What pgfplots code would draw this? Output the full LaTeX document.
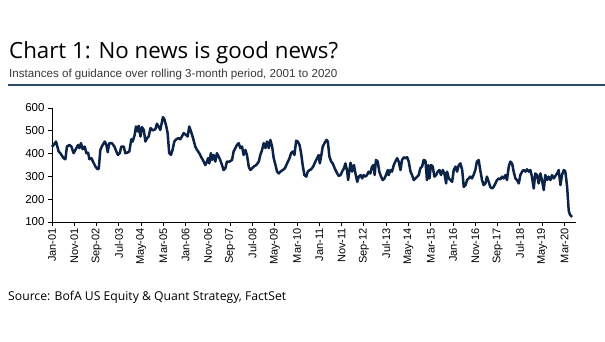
\documentclass[border=0pt]{standalone}
\usepackage{fontspec}
\setmainfont{Liberation Sans}
\newfontfamily\titlefont{Open Sans}
\newfontfamily\subfont{Liberation Sans}
\usepackage{pgfplots}
\pgfplotsset{compat=1.18}
\definecolor{navy}{HTML}{0C2348}
\definecolor{rulecol}{HTML}{2E4A6B}
\begin{document}
\begin{tikzpicture}
\path[use as bounding box] (0pt,0pt) rectangle (605pt,-341pt);
\node[anchor=base west, inner sep=0pt] at (9pt,-58pt) {\titlefont\fontsize{22.3}{25}\selectfont Chart 1: No news is good news?};
\node[anchor=base west, inner sep=0pt, text=black!78] at (9pt,-77pt) {\subfont\fontsize{11.6}{13}\selectfont Instances of guidance over rolling 3-month period, 2001 to 2020};
\draw[rulecol, line width=1.2pt] (8pt,-85pt) -- (605pt,-85pt);
\node[anchor=base west, inner sep=0pt] at (8pt,-300pt) {\titlefont\fontsize{12.2}{14}\selectfont Source: BofA US Equity \& Quant Strategy, FactSet};
\begin{axis}[
  at={(52pt,-222pt)}, anchor=south west,
  scale only axis, width=523.6pt, height=114pt,
  xmin=0, xmax=235, ymin=100, ymax=600,
  axis x line*=bottom, axis y line*=left,
  xtick={0,10,...,230},
  xticklabels={Jan-01,Nov-01,Sep-02,Jul-03,May-04,Mar-05,Jan-06,Nov-06,Sep-07,Jul-08,May-09,Mar-10,Jan-11,Nov-11,Sep-12,Jul-13,May-14,Mar-15,Jan-16,Nov-16,Sep-17,Jul-18,May-19,Mar-20},
  x tick label style={rotate=90, anchor=east, font=\fontsize{11}{12}\selectfont, inner xsep=2pt},
  y tick label style={font=\fontsize{11.5}{12}\selectfont},
  ytick={100,200,...,600},
  tick align=outside, major tick length=4pt,
  axis line style={black, line width=0.9pt},
  tick style={black, line width=0.9pt},
  /pgf/number format/assume math mode=true,
  clip=false,
]
\addplot[navy, line width=2.5pt, line join=round, mark=none] coordinates {
(0,430) (0.75,438) (1.8,453) (3.0,409) (3.7,402) (5.2,380) (6.0,375) (6.7,431) (7.8,438) (8.7,431) (9.7,402) (10.5,416) (11.7,438) (12.3,424) (13.0,446) (13.8,419) (14.7,431) (15.4,402) (16.2,404) (16.8,375) (17.7,380) (18.4,365) (19.5,343) (20.5,331) (21.0,335) (21.7,416) (22.5,434) (23.7,453) (24.4,438) (25.0,406) (25.7,446) (26.9,446) (28.0,431) (28.9,409) (29.6,394) (30.4,402) (31.1,431) (32.2,431) (32.9,402) (33.7,404) (34.7,409) (35.6,463) (36.2,453) (37.1,482) (37.7,519) (38.5,497) (38.9,522) (39.7,475) (40.4,516) (41.2,504) (41.9,453) (42.7,468) (43.4,475) (44.2,512) (45.2,502)
(46.4,507) (47.1,531) (47.8,519) (48.6,504) (49.8,560) (50.5,549) (51.3,519) (51.9,490) (52.6,402) (53.4,394) (54.1,416) (54.9,453) (55.8,463) (56.8,468) (57.6,463) (58.3,475) (59.1,490) (60.1,482) (60.9,475) (61.6,519) (62.4,497) (63.3,468) (64.3,431) (65.1,416) (66.1,402) (67.0,384) (68.1,365) (68.8,350) (69.6,365) (70.0,380) (70.6,357) (71.3,402) (71.8,372) (72.5,394) (73.3,365) (74.0,402) (74.8,387) (75.5,372) (76.3,350) (77.0,328) (77.8,335) (78.5,365) (79.7,365) (80.8,372) (81.5,409) (82.3,424) (83.0,438) (83.8,446) (84.5,424) (85.3,431) (86.0,394) (86.8,416) (87.5,394) (88.3,343) (89.0,328) (89.8,335) (90.5,343) (91.7,350)
(92.8,365) (93.5,394) (94.3,416) (95.0,446) (95.8,424) (96.5,453) (97.3,424) (98.0,460) (98.8,431) (99.5,380) (100.3,350) (101.0,321) (101.8,313) (102.5,321) (103.6,328) (104.5,335) (105.5,357) (106.6,380) (107.3,402) (108.1,409) (108.8,394) (109.6,457) (110.3,453) (111.1,438) (111.8,402) (112.6,343) (113.3,306) (114.1,299) (114.8,321) (115.6,328) (116.3,331) (117.2,343) (118.2,365) (119.0,380) (119.7,394) (120.2,357) (120.9,394) (121.5,431) (122.3,446) (123.2,460) (123.8,453) (124.5,387) (125.3,365) (126.0,357) (126.9,335) (128.0,313) (128.7,302) (129.5,306) (130.2,321) (131.0,335) (131.7,357) (132.5,321) (132.9,284) (133.5,328) (134.0,360) (134.7,321) (135.5,350) (136.2,313) (137.0,276) (137.7,299) (138.5,306) (139.2,291)
(139.9,306) (140.6,299) (141.4,306) (142.1,321) (142.9,313) (143.6,343) (144.4,350) (144.8,306) (145.4,372) (146.2,365) (146.9,321) (147.7,299) (148.4,284) (149.2,291) (149.9,306) (150.7,328) (151.1,306) (151.9,328) (152.6,321) (153.4,350) (154.1,365) (154.9,380) (155.6,365) (156.4,328) (157.1,372) (157.9,384) (158.6,380) (159.4,384) (160.1,365) (160.9,321) (161.6,306) (162.4,284) (163.1,291) (163.9,299) (164.6,306) (165.3,335) (166.1,343) (166.8,372) (167.6,369) (168.3,284) (168.8,350) (169.4,291) (170.1,350) (170.9,343) (171.6,299) (172.4,306) (173.1,321) (173.9,328) (174.6,306) (175.4,328) (176.1,313) (176.9,269) (177.3,321) (178.1,291) (178.8,284) (179.6,276) (180.3,328) (181.1,343) (181.8,321) (182.6,350) (183.3,357) (184.1,328) (184.8,254) (185.6,262) (186.3,284)
(187.0,291) (187.7,299) (188.5,291) (189.2,306) (190.0,328) (190.7,365) (191.5,372) (192.2,328) (193.0,284) (193.7,262) (194.5,269) (195.2,299) (196.0,276) (196.7,254) (197.5,247) (198.2,254) (199.0,269) (199.7,284) (200.5,291) (201.2,287) (202.0,299) (202.7,291) (203.5,306) (204.2,284) (205.0,343) (205.7,365) (206.5,357) (207.2,321) (208.0,291) (208.7,284) (209.5,269) (210.2,306) (211.0,321) (211.7,328) (212.5,321) (213.2,331) (214.0,321) (214.7,328) (215.4,299) (216.2,247) (216.9,313) (217.7,306) (218.4,269) (219.2,313) (219.9,284) (220.7,240) (221.4,306) (222.2,284) (222.9,299) (223.7,284) (224.4,306) (225.2,291) (225.9,302) (226.7,313) (227.4,328) (228.2,262) (228.9,306) (229.7,328) (230.4,321) (231.2,254) (231.9,151) (232.4,133) (233.4,122)
};
\end{axis}
\end{tikzpicture}
\end{document}
